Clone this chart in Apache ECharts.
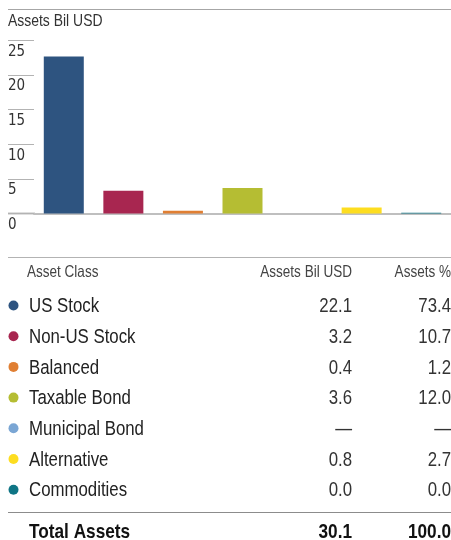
<!DOCTYPE html>
<html>
<head>
<meta charset="utf-8">
<script src="https://cdn.jsdelivr.net/npm/echarts@6/dist/echarts.min.js"></script>
<style>
  html, body { margin: 0; padding: 0; background: #fff; }
  #main { width: 451px; height: 540px; }
</style>
</head>
<body>
<div id="main"></div>
<script>
// chart data
var categories = ['US Stock', 'Non-US Stock', 'Balanced', 'Taxable Bond', 'Municipal Bond', 'Alternative', 'Commodities'];
var barValues = [22.7, 3.3, 0.4, 3.7, -0.25, 0.85, 0.1];
var colors = ['#2e5480', '#a82650', '#e07f33', '#b5bd33', '#7aa6d4', '#fddd20', '#0f7585'];
var yTicks = [0, 25, 5]; // min, max, interval

// table data
var tableAssets = ['22.1', '3.2', '0.4', '3.6', '—', '0.8', '0.0'];
var tablePct = ['73.4', '10.7', '1.2', '12.0', '—', '2.7', '0.0'];
var totalAssets = '30.1';
var totalPct = '100.0';

// narrow sans: Liberation Sans squeezed horizontally
var FONT = '"Liberation Sans", Arial, sans-serif';
var SQ = 0.82;

var chart = echarts.init(document.getElementById('main'), null, { renderer: 'canvas' });

function txt(x, y, s, size, color, align, bold) {
  return {
    type: 'text', x: x, y: y, scaleX: SQ,
    style: {
      text: s,
      font: (bold ? 'bold ' : '') + size + 'px ' + FONT,
      fill: color,
      align: align || 'left',
      verticalAlign: 'middle'
    }
  };
}

var graphics = [
  // top rule + title
  { type: 'line', shape: { x1: 8, y1: 9.5, x2: 451, y2: 9.5 }, style: { stroke: '#a6a6a6', lineWidth: 1 } },
  txt(8, 21.5, 'Assets Bil USD', 17, '#333'),
  // table header
  { type: 'line', shape: { x1: 8, y1: 257.5, x2: 451, y2: 257.5 }, style: { stroke: '#b3b3b3', lineWidth: 1 } },
  txt(27, 272.5, 'Asset Class', 16.5, '#444'),
  txt(352, 272.5, 'Assets Bil USD', 16.5, '#444', 'right'),
  txt(451, 272.5, 'Assets %', 16.5, '#444', 'right'),
  // total
  { type: 'line', shape: { x1: 8, y1: 512.5, x2: 451, y2: 512.5 }, style: { stroke: '#8c8c8c', lineWidth: 1 } },
  txt(29, 532, 'Total Assets', 21, '#111', 'left', true),
  txt(352, 532, totalAssets, 21, '#111', 'right', true),
  txt(451, 532, totalPct, 21, '#111', 'right', true)
];

for (var i = 0; i < categories.length; i++) {
  var y = 306.5 + i * 30.7;
  graphics.push(
    { type: 'circle', shape: { cx: 13.5, cy: y - 1, r: 5 }, style: { fill: colors[i] } },
    txt(29, y, categories[i], 20.5, '#222'),
    txt(352, y, tableAssets[i], 20.5, '#333', 'right'),
    txt(451, y, tablePct[i], 20.5, '#333', 'right')
  );
}

var option = {
  animation: false,
  backgroundColor: '#ffffff',
  grid: { left: 34, right: 0, top: 40.5, height: 173 },
  xAxis: {
    type: 'category',
    data: categories,
    axisLine: { lineStyle: { color: '#bfbfbf', width: 2 } },
    axisTick: { show: false },
    axisLabel: { show: false }
  },
  yAxis: {
    type: 'value',
    min: yTicks[0],
    max: yTicks[1],
    interval: yTicks[2],
    axisLine: { show: false },
    axisTick: { show: true, length: 26, lineStyle: { color: '#b3b3b3', width: 1 } },
    splitLine: { show: false },
    axisLabel: {
      margin: 26,
      align: 'left',
      verticalAlign: 'top',
      padding: [4, 0, 0, 0],
      color: '#333',
      fontSize: 15,
      fontFamily: '"DejaVu Sans Condensed", sans-serif'
    }
  },
  series: [{
    type: 'bar',
    data: barValues.map(function (v, i) {
      return { value: v, itemStyle: { color: colors[i] } };
    }),
    barWidth: 40
  }],
  graphic: graphics
};

chart.setOption(option);

// extend the zero line left under the tick labels
var zeroY = chart.convertToPixel({ yAxisIndex: 0 }, 0);
chart.setOption({
  graphic: graphics.concat([
    { type: 'line', shape: { x1: 8, y1: zeroY, x2: 35, y2: zeroY }, style: { stroke: '#bfbfbf', lineWidth: 2 } }
  ])
});
</script>
</body>
</html>
